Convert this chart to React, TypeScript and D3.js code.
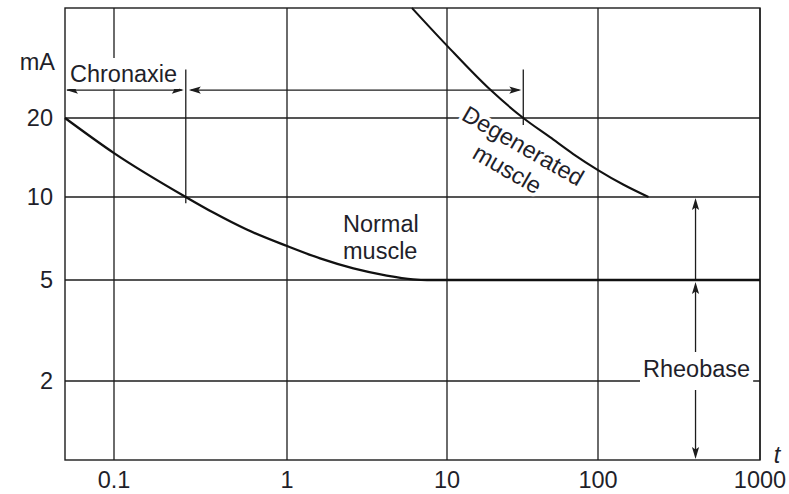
import React, { useEffect, useRef } from 'react';
import * as d3 from 'd3';

// Stimulus duration (ms) grid values and labels
const durationTicks = [0.1, 1, 10, 100, 1000];
const durationTickLabels = ['0.1', '1', '10', '100', '1000'];
// Current (mA) grid values and labels
const currentTicks = [2, 5, 10, 20];
const currentTickLabels = ['2', '5', '10', '20'];

// Strength–duration curves: [duration, current]
const normalMuscle: [number, number][] = [
  [0.05, 20], [0.1, 14.7], [0.26, 10], [0.375, 8.78], [0.585, 7.62], [1, 6.64],
  [1.61, 5.99], [2.6, 5.51], [4.2, 5.19], [6.13, 5.03], [7.5, 5.0], [1000, 5.0],
];
const degeneratedMuscle: [number, number][] = [
  [6.04, 52], [10, 37.5], [19.3, 25.6], [32, 20], [48.1, 16.9], [68.6, 14.58],
  [100, 12.67], [143, 11.16], [205, 10],
];

// Annotation values
const rheobase = 5;
const doubleRheobase = 10;
const normalChronaxie = 0.26;
const degeneratedChronaxie = 32;
const chronaxieArrowLevel = 25.5;
const chronaxieTickTop = 30.5;
const normalTickBottom = 9.5;
const degeneratedTickBottom = 18.8;
const rheobaseArrowTime = 400;
const durationMin = 0.05;
const durationMax = 1000;
const currentMin = 1;
const currentMax = 52;

const W = 789;
const H = 494;
const INK = '#1c1c1c';
const TEXT = '#1f1f2a';
const FONT = "'Liberation Sans', Arial, Helvetica, sans-serif";
const FS = 23.5;

export default function App() {
  const ref = useRef<SVGSVGElement | null>(null);

  useEffect(() => {
    const svg = d3.select(ref.current);
    svg.selectAll('*').remove();

    const x = d3.scaleLog()
      .domain([durationMin, 0.1, 1, 10, 100, durationMax])
      .range([65, 114, 287, 447, 598, 760]);
    const y = d3.scaleLog()
      .domain([currentMin, 2, 5, 10, 20, currentMax])
      .range([460, 381, 280, 197, 118, 8]);

    const x0 = x(durationMin), x1 = x(durationMax);
    const y0 = y(currentMin), y1 = y(currentMax);

    // grid
    const grid = svg.append('g').attr('stroke', INK).attr('stroke-width', 1.3);
    durationTicks.forEach((t) => {
      grid.append('line').attr('x1', x(t)).attr('x2', x(t)).attr('y1', y1).attr('y2', y0);
    });
    currentTicks.forEach((c) => {
      grid.append('line').attr('x1', x0).attr('x2', x1).attr('y1', y(c)).attr('y2', y(c));
    });
    svg.append('rect')
      .attr('x', x0).attr('y', y1).attr('width', x1 - x0).attr('height', y0 - y1)
      .attr('fill', 'none').attr('stroke', INK).attr('stroke-width', 1.4);

    // arrows
    const ann = svg.append('g');
    const head = (tx: number, ty: number, angle: number) => {
      const L = 12, hw = 3.6, notch = 2.5;
      const c = Math.cos(angle), s = Math.sin(angle);
      const pt = (a: number, b: number) => [tx - a * c - b * -s, ty - a * s - b * c];
      const p1 = pt(L, hw), p2 = pt(L - notch, 0), p3 = pt(L, -hw);
      ann.append('path')
        .attr('d', `M${tx},${ty}L${p1[0]},${p1[1]}L${p2[0]},${p2[1]}L${p3[0]},${p3[1]}Z`)
        .attr('fill', INK);
    };
    const seg = (ax: number, ay: number, bx: number, by: number, w = 1.3) => {
      ann.append('line').attr('x1', ax).attr('y1', ay).attr('x2', bx).attr('y2', by)
        .attr('stroke', INK).attr('stroke-width', w);
    };

    const ya = y(chronaxieArrowLevel);
    const xn = x(normalChronaxie);
    const xd = x(degeneratedChronaxie);
    // chronaxie of normal muscle
    seg(x0 + 2, ya, xn - 4, ya);
    head(x0 + 1, ya, Math.PI);
    head(xn - 2, ya, 0);
    seg(xn, y(chronaxieTickTop), xn, y(normalTickBottom));
    // chronaxie of degenerated muscle
    seg(xn + 5, ya, xd - 4, ya);
    head(xn + 3, ya, Math.PI);
    head(xd - 2, ya, 0);
    seg(xd, y(chronaxieTickTop), xd, y(degeneratedTickBottom));

    // rheobase and double rheobase
    const xr = x(rheobaseArrowTime);
    seg(xr, y(rheobase), xr, y(doubleRheobase) + 6);
    head(xr, y(doubleRheobase) + 1, -Math.PI / 2);
    seg(xr, y(rheobase) + 6, xr, y0 - 6);
    head(xr, y(rheobase) + 2, -Math.PI / 2);
    head(xr, y0 - 1, Math.PI / 2);

    // labels with white backing
    const labels = svg.append('g')
      .attr('font-family', FONT).attr('font-size', FS).attr('fill', TEXT);

    const boxed = (txt: string, tx: number, ty: number, pad: [number, number, number, number]) => {
      const bg = labels.append('rect').attr('fill', '#fff');
      const t = labels.append('text').attr('x', tx).attr('y', ty).text(txt);
      const b = (t.node() as SVGTextElement).getBBox();
      bg.attr('x', b.x - pad[3]).attr('y', b.y - pad[0])
        .attr('width', b.width + pad[1] + pad[3]).attr('height', b.height + pad[0] + pad[2]);
    };
    boxed('Chronaxie', 70, 82, [3, 2, 2, 2]);
    boxed('Rheobase', 643, 377, [4, 3, 8, 3]);

    labels.append('text').attr('x', 343).attr('y', 232).text('Normal');
    labels.append('text').attr('x', 343).attr('y', 259).text('muscle');

    const deg = labels.append('g').attr('transform', 'translate(523,146) rotate(30)');
    ['Degenerated', 'muscle'].forEach((s, i) => {
      deg.append('text')
        .attr('x', i === 0 ? 0 : -2).attr('y', i * 28 + 8)
        .attr('text-anchor', 'middle')
        .attr('stroke', '#fff').attr('stroke-width', 7).attr('paint-order', 'stroke')
        .attr('stroke-linejoin', 'round')
        .text(s);
    });

    // axis labels
    durationTicks.forEach((t, i) => {
      labels.append('text').attr('x', x(t)).attr('y', 488)
        .attr('text-anchor', 'middle').text(durationTickLabels[i]);
    });
    currentTicks.forEach((c, i) => {
      labels.append('text').attr('x', 53).attr('y', y(c) + 8.4)
        .attr('text-anchor', 'end').text(currentTickLabels[i]);
    });
    labels.append('text').attr('x', 55).attr('y', 70).attr('text-anchor', 'end').text('mA');
    labels.append('text').attr('x', 777).attr('y', 463).attr('text-anchor', 'middle')
      .attr('font-style', 'italic').text('t');

    // curves
    const line = d3.line<[number, number]>()
      .x((d) => x(d[0]))
      .y((d) => y(d[1]))
      .curve(d3.curveMonotoneX);
    svg.append('path').attr('d', line(normalMuscle))
      .attr('fill', 'none').attr('stroke', '#111').attr('stroke-width', 2.3);
    svg.append('path').attr('d', line(degeneratedMuscle))
      .attr('fill', 'none').attr('stroke', '#111').attr('stroke-width', 2.1);
  }, []);

  return (
    <svg
      ref={ref}
      width={W}
      height={H}
      style={{ position: 'absolute', left: 0, top: 0, background: '#fff' }}
    />
  );
}
